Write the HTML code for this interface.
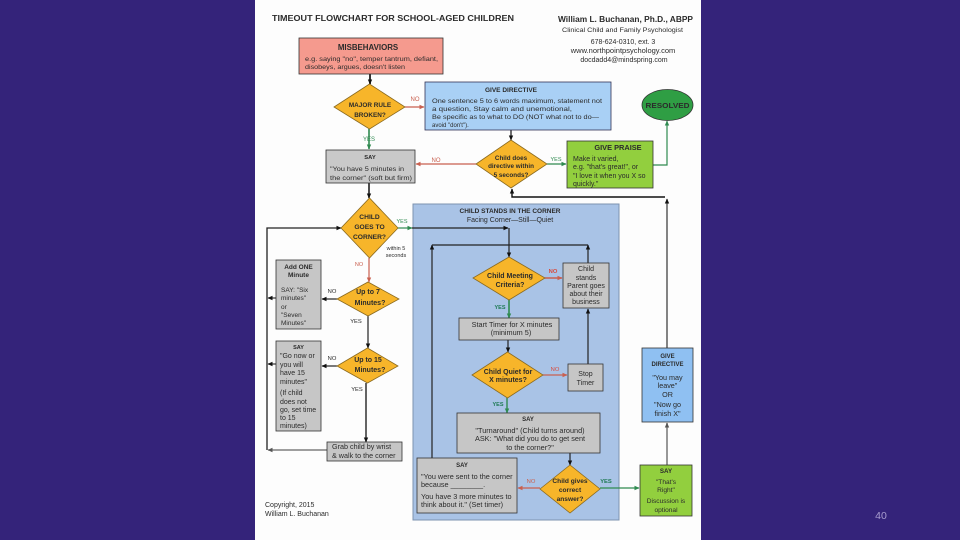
<!DOCTYPE html>
<html><head><meta charset="utf-8"><style>
html,body{margin:0;padding:0;background:#34237a;width:960px;height:540px;overflow:hidden}
svg{display:block}
text{font-family:"Liberation Sans",sans-serif;fill:#2b2b2b}
.c{text-anchor:middle}
.b{font-weight:bold}
.s{stroke:#333;stroke-width:.8}
.blur{filter:blur(.35px)}
</style></head><body>
<svg width="960" height="540" viewBox="0 0 960 540" xmlns="http://www.w3.org/2000/svg">
<defs>
<marker id="k" markerUnits="userSpaceOnUse" markerWidth="5" markerHeight="5" refX="4.500" refY="2.500" orient="auto"><path d="M0 .3L5 2.500L0 4.700Z" fill="#111"/></marker>
<marker id="g" markerUnits="userSpaceOnUse" markerWidth="5" markerHeight="5" refX="4.500" refY="2.500" orient="auto"><path d="M0 .3L5 2.500L0 4.700Z" fill="#2f8a50"/></marker>
<marker id="r" markerUnits="userSpaceOnUse" markerWidth="5" markerHeight="5" refX="4.500" refY="2.500" orient="auto"><path d="M0 .3L5 2.500L0 4.700Z" fill="#c9604f"/></marker>
<marker id="y" markerUnits="userSpaceOnUse" markerWidth="5" markerHeight="5" refX="4.500" refY="2.500" orient="auto"><path d="M0 .3L5 2.500L0 4.700Z" fill="#555"/></marker>
</defs>
<rect x="255" y="0" width="446" height="540" fill="#fdfdfd"/>
<g class="blur">
<rect x="413" y="204" width="206" height="316" fill="#a9c3e6" stroke="#7d93b0" stroke-width="1"/>

<g fill="none" stroke-width="1.2">
<path d="M370 74V84" stroke="#333" stroke-width="2" marker-end="url(#k)"/>
<path d="M405 107H424" stroke="#c9604f" marker-end="url(#r)"/>
<path d="M369 129V149" stroke="#2f8a50" stroke-width="1.600" marker-end="url(#g)"/>
<path d="M511 130V140" stroke="#111" marker-end="url(#k)"/>
<path d="M476 164H416" stroke="#c9604f" marker-end="url(#r)"/>
<path d="M547 164H566" stroke="#2f8a50" marker-end="url(#g)"/>
<path d="M653 165H667V121" stroke="#2f8a50" marker-end="url(#g)"/>
<path d="M369 183V198" stroke="#111" stroke-width="1.500" marker-end="url(#k)"/>
<path d="M369 258V282" stroke="#c9604f" marker-end="url(#r)"/>
<path d="M368 316V348" stroke="#222" marker-end="url(#k)"/>
<path d="M366 383V442" stroke="#222" stroke-width="1.400" marker-end="url(#k)"/>
<path d="M337 299H322" stroke="#222" marker-end="url(#k)"/>
<path d="M337 366H322" stroke="#222" marker-end="url(#k)"/>
<path d="M276 298H268" stroke="#333" marker-end="url(#k)"/>
<path d="M276 364H268" stroke="#333" marker-end="url(#k)"/>
<path d="M327 450H268" stroke="#666" marker-end="url(#y)"/>
<path d="M267 450V228H341" stroke="#222" stroke-width="1.300" marker-end="url(#k)"/>
<path d="M398 228H412" stroke="#2f8a50" marker-end="url(#g)"/>
<path d="M412 228H508" stroke="#222" marker-end="url(#k)"/>
<path d="M509 228V257" stroke="#222" marker-end="url(#k)"/>
<path d="M432 458V245" stroke="#222" marker-end="url(#k)"/>
<path d="M432 245H588" stroke="#222"/>
<path d="M588 263V245" stroke="#222" marker-end="url(#k)"/>
<path d="M588 364V309" stroke="#222" marker-end="url(#k)"/>
<path d="M545 278H562" stroke="#c9604f" stroke-width="1.600" marker-end="url(#r)"/>
<path d="M509 300V318" stroke="#2f8a50" stroke-width="1.600" marker-end="url(#g)"/>
<path d="M508 340V352" stroke="#222" marker-end="url(#k)"/>
<path d="M543 375H567" stroke="#c9604f" marker-end="url(#r)"/>
<path d="M507 398V413" stroke="#2f8a50" stroke-width="1.400" marker-end="url(#g)"/>
<path d="M570 453V465" stroke="#222" marker-end="url(#k)"/>
<path d="M540 488H518" stroke="#c9604f" marker-end="url(#r)"/>
<path d="M600 488H639" stroke="#2f8a50" marker-end="url(#g)"/>
<path d="M667 465V423" stroke="#777" stroke-width="1.500" marker-end="url(#y)"/>
<path d="M667 348V199" stroke="#333" marker-end="url(#k)"/>
<path d="M665 197H512V189" stroke="#111" stroke-width="1.400" marker-end="url(#k)"/>
</g>

<g class="s">
<rect x="299" y="38" width="144" height="36" fill="#f59a8e"/>
<rect x="425" y="82" width="186" height="48" fill="#a9d0f5" stroke="#335"/>
<rect x="326" y="150" width="89" height="33" fill="#c9c9c9"/>
<rect x="567" y="141" width="86" height="47" fill="#92cf3e"/>
<ellipse cx="667.500" cy="105" rx="25.500" ry="15.500" fill="#2f9e44"/>
<rect x="276" y="260" width="45" height="69" fill="#c6c6c6"/>
<rect x="276" y="341" width="45" height="90" fill="#c6c6c6"/>
<rect x="327" y="442" width="75" height="19" fill="#c6c6c6"/>
<rect x="563" y="263" width="46" height="45" fill="#c6c6c6"/>
<rect x="459" y="318" width="100" height="22" fill="#c6c6c6"/>
<rect x="568" y="364" width="35" height="27" fill="#c6c6c6"/>
<rect x="457" y="413" width="143" height="40" fill="#c6c6c6"/>
<rect x="417" y="458" width="100" height="55" fill="#c6c6c6"/>
<rect x="640" y="465" width="52" height="51" fill="#92cf3e"/>
<rect x="642" y="348" width="51" height="74" fill="#8fc0f2"/>
<g fill="#f7b52a" stroke="#8a6a20">
<polygon points="334,107 369.500,84 405,107 369.500,129"/>
<polygon points="476,164 511,140 547,164 511,188"/>
<polygon points="341,228 369.500,198 398,228 369.500,258"/>
<polygon points="337,299 368,282 399,299 368,316"/>
<polygon points="337,366 367.500,348 398,366 367.500,383"/>
<polygon points="473,278 509,257 545,278 509,300"/>
<polygon points="472,375 507.500,352 543,375 507.500,398"/>
<polygon points="540,489 570,465 600,489 570,513"/>
</g>
</g>

<g font-size="7">
<text x="272" y="21" class="b" font-size="8.600" textLength="242" lengthAdjust="spacingAndGlyphs">TIMEOUT FLOWCHART FOR SCHOOL-AGED CHILDREN</text>
<text x="558" y="22" class="b" font-size="8" textLength="135" lengthAdjust="spacingAndGlyphs">William L. Buchanan, Ph.D., ABPP</text>
<text x="562" y="32" font-size="6.500" textLength="121" lengthAdjust="spacingAndGlyphs">Clinical Child and Family Psychologist</text>
<text x="623" y="44" font-size="7" class="c">678-624-0310, ext. 3</text>
<text x="623" y="53" font-size="7.500" class="c">www.northpointpsychology.com</text>
<text x="624" y="62" font-size="7" class="c">docdadd4@mindspring.com</text>

<text x="368" y="50" class="c b" font-size="7.900">MISBEHAVIORS</text>
<text x="305" y="61" font-size="6" textLength="133" lengthAdjust="spacingAndGlyphs">e.g. saying "no", temper tantrum, defiant,</text>
<text x="305" y="69" font-size="6" textLength="100" lengthAdjust="spacingAndGlyphs">disobeys, argues, doesn't listen</text>

<text x="370" y="107" class="c b" font-size="6.400">MAJOR RULE</text>
<text x="370" y="117" class="c b" font-size="6.400">BROKEN?</text>
<text x="415" y="101" class="c" font-size="6" style="fill:#c9604f">NO</text>
<text x="369" y="141" class="c" font-size="6" style="fill:#2f8a50">YES</text>

<text x="511" y="92" class="c b" font-size="6.500">GIVE DIRECTIVE</text>
<text x="432" y="103" font-size="6" textLength="170" lengthAdjust="spacingAndGlyphs">One sentence 5 to 6 words maximum, statement not</text>
<text x="432" y="111" font-size="6" textLength="140" lengthAdjust="spacingAndGlyphs">a question, Stay calm and unemotional,</text>
<text x="432" y="119" font-size="6" textLength="167" lengthAdjust="spacingAndGlyphs">Be specific as to what to DO (NOT what not to do—</text>
<text x="432" y="127" font-size="6">avoid "don't").</text>

<text x="667.500" y="108" class="c b" font-size="7.500" textLength="44" lengthAdjust="spacingAndGlyphs">RESOLVED</text>

<text x="370" y="159" class="c b" font-size="5.800">SAY</text>
<text x="330" y="171" font-size="6" textLength="74" lengthAdjust="spacingAndGlyphs">"You have 5 minutes in</text>
<text x="330" y="180" font-size="6" textLength="82" lengthAdjust="spacingAndGlyphs">the corner" (soft but firm)</text>
<text x="436" y="162" class="c" font-size="6" style="fill:#c9604f">NO</text>

<text x="511" y="160" class="c b" font-size="6.300">Child does</text>
<text x="511" y="168" class="c b" font-size="6.300">directive within</text>
<text x="511" y="177" class="c b" font-size="6.300">5 seconds?</text>
<text x="556" y="161" class="c" font-size="5.500" style="fill:#2f8a50">YES</text>

<text x="618" y="150" class="c b" font-size="7.400">GIVE PRAISE</text>
<text x="573" y="161" font-size="7">Make it varied,</text>
<text x="573" y="169" font-size="7">e.g. "that's great!", or</text>
<text x="573" y="178" font-size="7">"I love it when you X so</text>
<text x="573" y="186" font-size="7">quickly."</text>

<text x="369.500" y="219" class="c b" font-size="6.700">CHILD</text>
<text x="369.500" y="229" class="c b" font-size="6.700">GOES TO</text>
<text x="369.500" y="239" class="c b" font-size="6.700">CORNER?</text>
<text x="402" y="223" class="c" font-size="5.500" style="fill:#2f8a50">YES</text>
<text x="396" y="250" class="c" font-size="5.500">within 5</text>
<text x="396" y="257" class="c" font-size="5.500">seconds</text>
<text x="359" y="266" class="c" font-size="5.500" style="fill:#c9604f">NO</text>

<text x="298.500" y="269" class="c b" font-size="6.500">Add ONE</text>
<text x="298.500" y="277" class="c b" font-size="6.500">Minute</text>
<text x="281" y="292" font-size="6.500">SAY: "Six</text>
<text x="281" y="300" font-size="6.500">minutes"</text>
<text x="281" y="309" font-size="6.500">or</text>
<text x="281" y="317" font-size="6.500">"Seven</text>
<text x="281" y="325" font-size="6.500">Minutes"</text>

<text x="332" y="293" class="c" font-size="5.800">NO</text>
<text x="368" y="294" class="c b" font-size="7">Up to 7</text>
<text x="370" y="305" class="c b" font-size="7">Minutes?</text>
<text x="356" y="323" class="c" font-size="5.800">YES</text>

<text x="298.500" y="349" class="c b" font-size="5.500">SAY</text>
<text x="280" y="358" font-size="7">"Go now or</text>
<text x="280" y="367" font-size="7">you will</text>
<text x="280" y="375" font-size="7">have 15</text>
<text x="280" y="384" font-size="7">minutes"</text>
<text x="280" y="395" font-size="7">(If child</text>
<text x="280" y="404" font-size="7">does not</text>
<text x="280" y="412" font-size="7">go, set time</text>
<text x="280" y="420" font-size="7">to 15</text>
<text x="280" y="428" font-size="7">minutes)</text>

<text x="332" y="360" class="c" font-size="5.800">NO</text>
<text x="368" y="362" class="c b" font-size="7">Up to 15</text>
<text x="370" y="372" class="c b" font-size="7">Minutes?</text>
<text x="357" y="391" class="c" font-size="5.800">YES</text>

<text x="332" y="449" font-size="7.200">Grab child by wrist</text>
<text x="332" y="458" font-size="7.200">&amp; walk to the corner</text>

<text x="265" y="507" font-size="7">Copyright, 2015</text>
<text x="265" y="516" font-size="7">William L. Buchanan</text>

<text x="510" y="213" class="c b" font-size="6.500">CHILD STANDS IN THE CORNER</text>
<text x="510" y="222" class="c" font-size="7">Facing Corner—Still—Quiet</text>

<text x="510" y="278" class="c b" font-size="7">Child Meeting</text>
<text x="510" y="287" class="c b" font-size="7">Criteria?</text>
<text x="553" y="273" class="c b" font-size="5.800" style="fill:#d84a3c">NO</text>
<text x="500" y="309" class="c b" font-size="5.500" style="fill:#1f7a55">YES</text>

<text x="586" y="271" class="c" font-size="7">Child</text>
<text x="586" y="280" class="c" font-size="7">stands</text>
<text x="586" y="288" class="c" font-size="7">Parent goes</text>
<text x="586" y="296" class="c" font-size="7">about their</text>
<text x="586" y="304" class="c" font-size="7">business</text>

<text x="512" y="327" class="c" font-size="7.300">Start Timer for X minutes</text>
<text x="511" y="335" class="c" font-size="7.300">(minimum 5)</text>

<text x="508" y="374" class="c b" font-size="7">Child Quiet for</text>
<text x="508" y="382" class="c b" font-size="7">X minutes?</text>
<text x="555" y="371" class="c" font-size="5.800" style="fill:#d84a3c">NO</text>
<text x="498" y="406" class="c b" font-size="5.500" style="fill:#1f7a55">YES</text>

<text x="585.500" y="376" class="c" font-size="7">Stop</text>
<text x="585.500" y="385" class="c" font-size="7">Timer</text>

<text x="528" y="421" class="c b" font-size="6">SAY</text>
<text x="530" y="433" class="c" font-size="7.300">"Turnaround" (Child turns around)</text>
<text x="530" y="441" class="c" font-size="7.300">ASK: "What did you do to get sent</text>
<text x="530" y="450" class="c" font-size="7.300">to the corner?"</text>

<text x="462" y="467" class="c b" font-size="6">SAY</text>
<text x="421" y="479" font-size="7.300">"You were sent to the corner</text>
<text x="421" y="487" font-size="7.300">because ________.</text>
<text x="421" y="499" font-size="7.300">You have 3 more minutes to</text>
<text x="421" y="507" font-size="7.300">think about it." (Set timer)</text>

<text x="531" y="483" class="c" font-size="5.800" style="fill:#c9604f">NO</text>
<text x="570" y="483" class="c b" font-size="6.600">Child gives</text>
<text x="570" y="492" class="c b" font-size="6.600">correct</text>
<text x="570" y="501" class="c b" font-size="6.600">answer?</text>
<text x="606" y="483" class="c b" font-size="5.800" style="fill:#1f7a55">YES</text>

<text x="667.500" y="358" class="c b" font-size="6">GIVE</text>
<text x="667.500" y="366" class="c b" font-size="6">DIRECTIVE</text>
<text x="667.500" y="380" class="c" font-size="7.200">"You may</text>
<text x="667.500" y="388" class="c" font-size="7.200">leave"</text>
<text x="667.500" y="397" class="c" font-size="7.200">OR</text>
<text x="667.500" y="407" class="c" font-size="7.200">"Now go</text>
<text x="667.500" y="416" class="c" font-size="7.200">finish X"</text>

<text x="666" y="473" class="c b" font-size="6.200">SAY</text>
<text x="666" y="484" class="c" font-size="6.600">"That's</text>
<text x="666" y="492" class="c" font-size="6.600">Right"</text>
<text x="666" y="503" class="c" font-size="6.600">Discussion is</text>
<text x="666" y="512" class="c" font-size="6.600">optional</text>
</g>
</g>
<text x="881" y="519" class="c" font-size="10.500" style="fill:#a89dcf">40</text>
</svg>
</body></html>
